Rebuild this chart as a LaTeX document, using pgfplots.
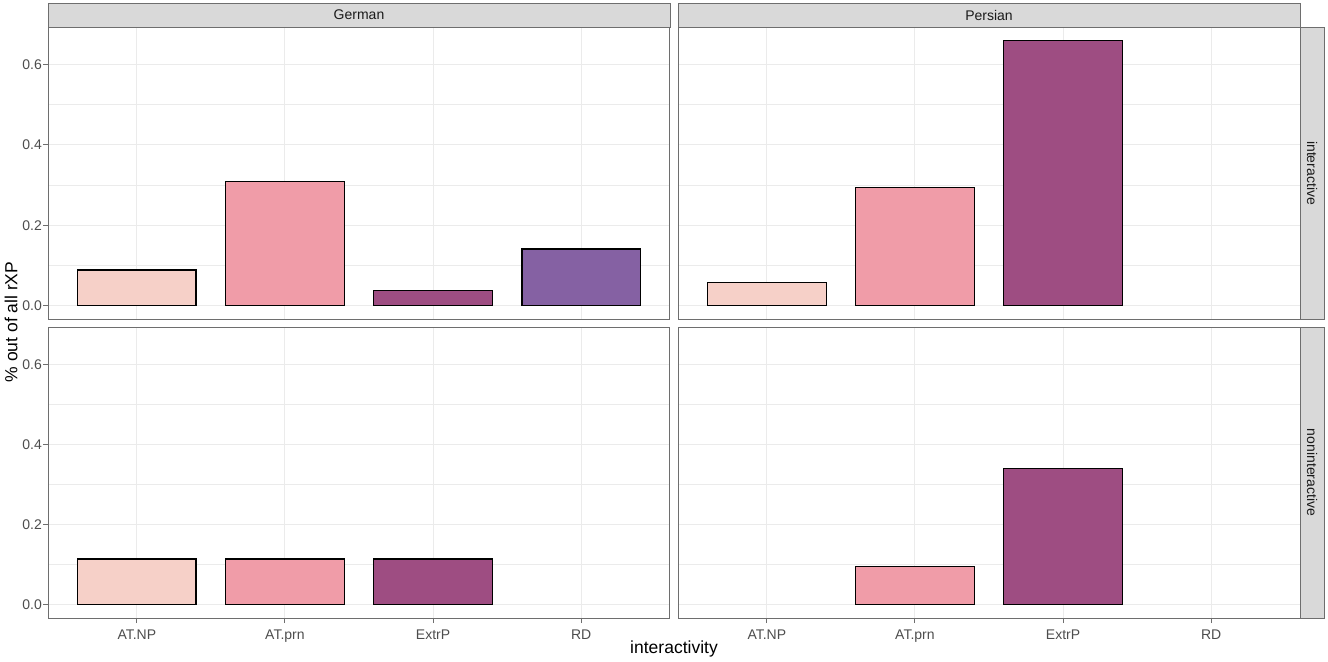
\documentclass[border=0pt]{standalone}
\usepackage{fontspec}
\setmainfont{Liberation Sans}
\usepackage{pgfplots}
\pgfplotsset{compat=1.18}

\definecolor{cNP}{RGB}{246,208,200}
\definecolor{cPRN}{RGB}{240,156,168}
\definecolor{cEXT}{RGB}{158,77,130}
\definecolor{cRD}{RGB}{133,97,163}
\definecolor{grid92}{RGB}{235,235,235}
\definecolor{frame}{RGB}{110,110,110}
\definecolor{stripfill}{RGB}{217,217,217}
\definecolor{grey30}{RGB}{77,77,77}
\definecolor{grey10}{RGB}{26,26,26}

\pgfplotsset{
  panel/.style={
    scale only axis, width=311pt, height=146pt,
    xmin=0.4, xmax=4.6, ymin=-0.033, ymax=0.693,
    axis line style={draw=frame, line width=0.5pt},
    xtick={1,2,3,4}, ytick={0,0.2,0.4,0.6}, minor ytick={0.1,0.3,0.5},
    xticklabels={}, yticklabels={},
    tick pos=left,
    grid=both,
    major grid style={draw=grid92, line width=0.5pt},
    minor grid style={draw=grid92, line width=0.3pt},
    tick align=outside, major tick length=2.5pt, minor tick length=0pt,
    tick style={draw=frame, line width=0.5pt},
    ticklabel style={font=\fontsize{7}{8}\selectfont, text=grey30},
    yticklabel style={inner xsep=0.4pt},
    clip=false,
  },
  bar/.style={ybar, bar width=0.8, bar shift=0pt, draw=black, line width=0.6pt, fill=#1},
  noxticks/.style={xmajorticks=false},
  noyticks/.style={ymajorticks=false},
  ylabs/.style={yticklabels={0.0,0.2,0.4,0.6}},
  xlabs/.style={xticklabels={AT.NP,AT.prn,ExtrP,RD}},
}

\begin{document}
\begin{tikzpicture}
\useasboundingbox (0pt,0pt) rectangle (664pt,-330.5pt);

% German / interactive
\begin{axis}[panel, ylabs, noxticks, at={(24pt,-13.5pt)}, anchor=north west]
\addplot[bar=cNP]  coordinates {(1,0.089)};
\addplot[bar=cPRN] coordinates {(2,0.308)};
\addplot[bar=cEXT] coordinates {(3,0.037)};
\addplot[bar=cRD]  coordinates {(4,0.141)};
\end{axis}

% Persian / interactive
\begin{axis}[panel, noxticks, noyticks, at={(339pt,-13.5pt)}, anchor=north west]
\addplot[bar=cNP]  coordinates {(1,0.057)};
\addplot[bar=cPRN] coordinates {(2,0.293)};
\addplot[bar=cEXT] coordinates {(3,0.660)};
\end{axis}

% German / noninteractive
\begin{axis}[panel, ylabs, xlabs, height=145.5pt, at={(24pt,-163.5pt)}, anchor=north west]
\addplot[bar=cNP]  coordinates {(1,0.114)};
\addplot[bar=cPRN] coordinates {(2,0.114)};
\addplot[bar=cEXT] coordinates {(3,0.114)};
\end{axis}

% Persian / noninteractive
\begin{axis}[panel, xlabs, noyticks, height=145.5pt, at={(339pt,-163.5pt)}, anchor=north west]
\addplot[bar=cPRN] coordinates {(2,0.095)};
\addplot[bar=cEXT] coordinates {(3,0.341)};
\end{axis}

% strips
\begin{scope}[every node/.style={font=\fontsize{7}{8}\selectfont, text=grey10}]
\draw[fill=stripfill, draw=frame, line width=0.5pt] (24pt,-1.5pt) rectangle (335pt,-13.5pt);
\node at (179.5pt,-7.5pt) {German};
\draw[fill=stripfill, draw=frame, line width=0.5pt] (339pt,-1.5pt) rectangle (650pt,-13.5pt);
\node at (494.5pt,-7.5pt) {Persian};
\draw[fill=stripfill, draw=frame, line width=0.5pt] (650pt,-13.5pt) rectangle (662pt,-159.5pt);
\node[rotate=-90] at (656pt,-86.5pt) {interactive};
\draw[fill=stripfill, draw=frame, line width=0.5pt] (650pt,-163.5pt) rectangle (662pt,-309pt);
\node[rotate=-90] at (656pt,-236.25pt) {noninteractive};
\end{scope}

% axis titles
\node[rotate=90, font=\fontsize{8.75}{10}\selectfont] at (5.5pt,-161pt) {\% out of all rXP};
\node[font=\fontsize{8.75}{10}\selectfont] at (337pt,-324.5pt) {interactivity};
\end{tikzpicture}
\end{document}
